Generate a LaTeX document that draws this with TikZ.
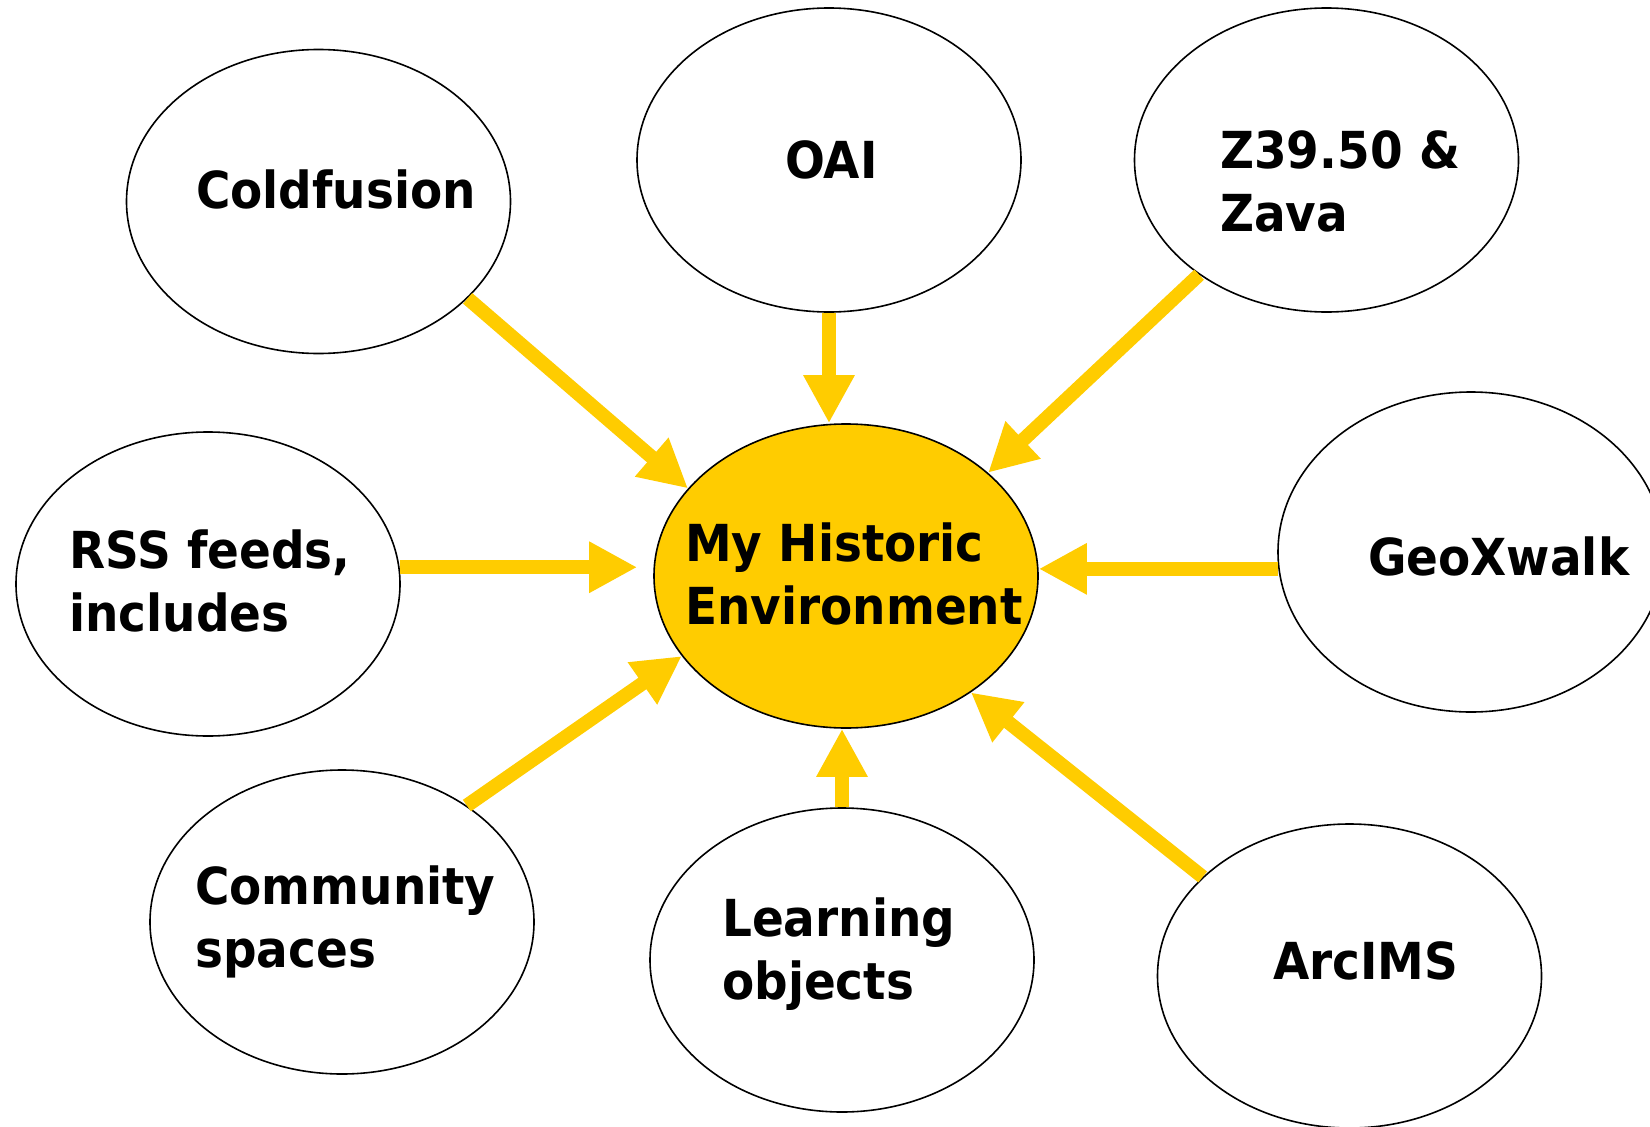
\documentclass[tikz,border=0pt]{standalone}
\usepackage{fontspec}
\setmainfont{DejaVu Sans}[FakeStretch=0.92]
\usetikzlibrary{shapes.geometric,arrows.meta,calc}
\definecolor{gold}{HTML}{FFCC00}
\begin{document}
\begin{tikzpicture}[x=1pt,y=-1pt,
  bubble/.style={ellipse, draw=black, line width=1.6pt, minimum width=384pt, minimum height=304pt, inner sep=0pt},
  lbl/.style={anchor=base west, inner sep=0pt, align=left, font=\fontsize{51pt}{63pt}\selectfont\bfseries},
  feed/.style={draw=gold, line width=14pt, -{Triangle[length=48pt,width=48pt]}}]
\fill[white] (0,0) rectangle (1650,1127);
\useasboundingbox (0,0) rectangle (1650,1127);
% bubbles
\node[bubble] (cold) at (318.5,201.5) {};
\node[bubble] (oai) at (829,160) {};
\node[bubble] (zed) at (1326.5,160) {};
\node[bubble] (rss) at (208,584) {};
\node[bubble, fill=gold] (hub) at (846,576) {};
\node[bubble, minimum width=386pt, minimum height=320pt] (geo) at (1471,552) {};
\node[bubble] (comm) at (342,922) {};
\node[bubble] (learn) at (842,960) {};
\node[bubble] (arc) at (1349.5,976) {};
% labels (base anchor = baseline of last line)
\node[lbl] (coldt) at (196,208) {Coldfusion};
\node[lbl] (oait) at (785,178) {OAI};
\node[lbl] (zedt) at (1220,231) {Z39.50 \&\\Zava};
\node[lbl] (rsst) at (69,631) {RSS feeds,\\includes};
\node[lbl] (hubt) at (685,624) {My Historic\\Environment};
\node[lbl] (geot) at (1368,575) {GeoXwalk};
\node[lbl] (commt) at (195,967) {Community\\spaces};
\node[lbl] (learnt) at (722,999) {Learning\\objects};
\node[lbl] (arct) at (1273,979) {ArcIMS};
% arrows
\draw[feed] (cold.-33) -- (hub.151);
\draw[feed] (oai.south) -- (oai.south |- hub.north);
\draw[feed] (zed.222) -- (hub.36);
\draw[feed] (rss.5) -- ($(rss.5 -| hub.west)+(-16,0)$);
\draw[feed] (geo.185) -- (geo.185 -| hub.east);
\draw[feed] (comm.43) -- (hub.206);
\draw[feed] (learn.north) -- (learn.north |- hub.south);
\draw[feed] (arc.146) -- (hub.-43);
\end{tikzpicture}
\end{document}
